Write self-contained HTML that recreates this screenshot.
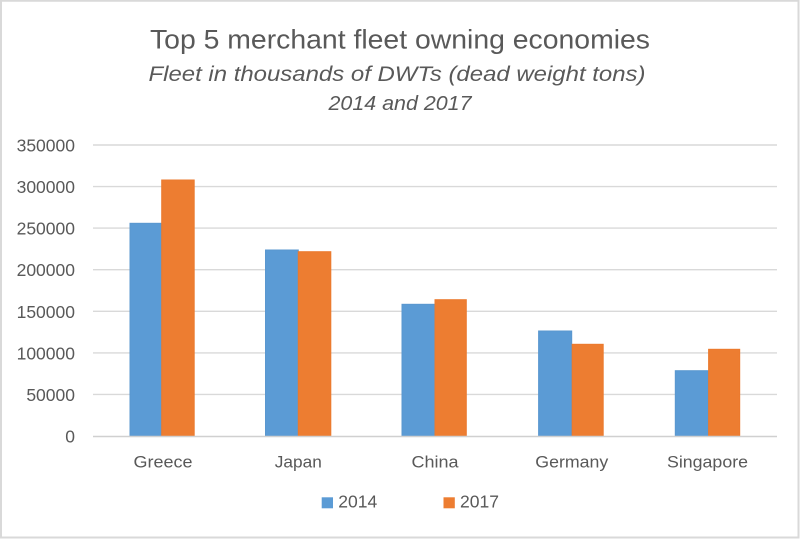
<!DOCTYPE html>
<html>
<head>
<meta charset="utf-8">
<style>
  html, body { margin: 0; padding: 0; background: #ffffff; }
  svg { display: block; }
  text { font-family: "Liberation Sans", Arial, sans-serif; fill: #595959; }
</style>
</head>
<body>
<svg width="800" height="539" viewBox="0 0 800 539" xmlns="http://www.w3.org/2000/svg">
  <rect x="0" y="0" width="800" height="539" fill="#ffffff"/>
  <!-- outer border -->
  <rect x="1" y="0.75" width="797.5" height="536.75" fill="none" stroke="#d9d9d9" stroke-width="2"/>

  <!-- titles -->
  <text x="400" y="48.3" font-size="26.5" text-anchor="middle" textLength="500" lengthAdjust="spacingAndGlyphs">Top 5 merchant fleet owning economies</text>
  <text x="397" y="81" font-size="21" font-style="italic" text-anchor="middle" textLength="497" lengthAdjust="spacingAndGlyphs">Fleet in thousands  of DWTs (dead weight tons)</text>
  <text x="400" y="110" font-size="20" font-style="italic" text-anchor="middle" textLength="143" lengthAdjust="spacingAndGlyphs">2014  and 2017</text>

  <!-- gridlines -->
  <g stroke="#d9d9d9" stroke-width="1.4">
    <line x1="93" y1="145" x2="777" y2="145"/>
    <line x1="93" y1="186.6" x2="777" y2="186.6"/>
    <line x1="93" y1="228.1" x2="777" y2="228.1"/>
    <line x1="93" y1="269.7" x2="777" y2="269.7"/>
    <line x1="93" y1="311.3" x2="777" y2="311.3"/>
    <line x1="93" y1="352.9" x2="777" y2="352.9"/>
    <line x1="93" y1="394.4" x2="777" y2="394.4"/>
  </g>

  <!-- y labels -->
  <g font-size="17.5" text-anchor="end">
    <text x="75" y="151.5">350000</text>
    <text x="75" y="193.1">300000</text>
    <text x="75" y="234.6">250000</text>
    <text x="75" y="276.2">200000</text>
    <text x="75" y="317.8">150000</text>
    <text x="75" y="359.4">100000</text>
    <text x="75" y="400.9">50000</text>
    <text x="75" y="442.5">0</text>
  </g>

  <!-- bars -->
  <g stroke-width="1">
    <!-- Greece -->
    <rect x="130" y="223.3" width="31.7" height="212.7" fill="#5b9bd5" stroke="#5a97cf"/>
    <rect x="161.7" y="180" width="32.5" height="256" fill="#ed7d31" stroke="#eb7a2e"/>
    <!-- Japan -->
    <rect x="265.5" y="250" width="32.8" height="186" fill="#5b9bd5" stroke="#5a97cf"/>
    <rect x="298.3" y="251.7" width="32.5" height="184.3" fill="#ed7d31" stroke="#eb7a2e"/>
    <!-- China -->
    <rect x="402" y="304.3" width="33" height="131.7" fill="#5b9bd5" stroke="#5a97cf"/>
    <rect x="435" y="299.7" width="31.3" height="136.3" fill="#ed7d31" stroke="#eb7a2e"/>
    <!-- Germany -->
    <rect x="538.6" y="331" width="33.1" height="105" fill="#5b9bd5" stroke="#5a97cf"/>
    <rect x="572.2" y="344.3" width="31" height="91.7" fill="#ed7d31" stroke="#eb7a2e"/>
    <!-- Singapore -->
    <rect x="675.3" y="370.7" width="33" height="65.3" fill="#5b9bd5" stroke="#5a97cf"/>
    <rect x="708.6" y="349.3" width="31.1" height="86.7" fill="#ed7d31" stroke="#eb7a2e"/>
  </g>

  <!-- axis line -->
  <line x1="93" y1="436.5" x2="777" y2="436.5" stroke="#d0d0d0" stroke-width="1.5"/>

  <!-- category labels -->
  <g font-size="17" text-anchor="middle">
    <text x="163" y="467.3" textLength="59" lengthAdjust="spacingAndGlyphs">Greece</text>
    <text x="298.3" y="467.3" textLength="47" lengthAdjust="spacingAndGlyphs">Japan</text>
    <text x="435" y="467.3" textLength="47" lengthAdjust="spacingAndGlyphs">China</text>
    <text x="571.8" y="467.3" textLength="73" lengthAdjust="spacingAndGlyphs">Germany</text>
    <text x="707.5" y="467.3" textLength="81" lengthAdjust="spacingAndGlyphs">Singapore</text>
  </g>

  <!-- legend -->
  <rect x="321.7" y="497.3" width="11.3" height="11" fill="#5b9bd5"/>
  <text x="338.3" y="507.7" font-size="17.5" textLength="39" lengthAdjust="spacingAndGlyphs">2014</text>
  <rect x="443.5" y="497.3" width="11.3" height="11" fill="#ed7d31"/>
  <text x="460" y="507.7" font-size="17.5" textLength="39" lengthAdjust="spacingAndGlyphs">2017</text>
</svg>
</body>
</html>
